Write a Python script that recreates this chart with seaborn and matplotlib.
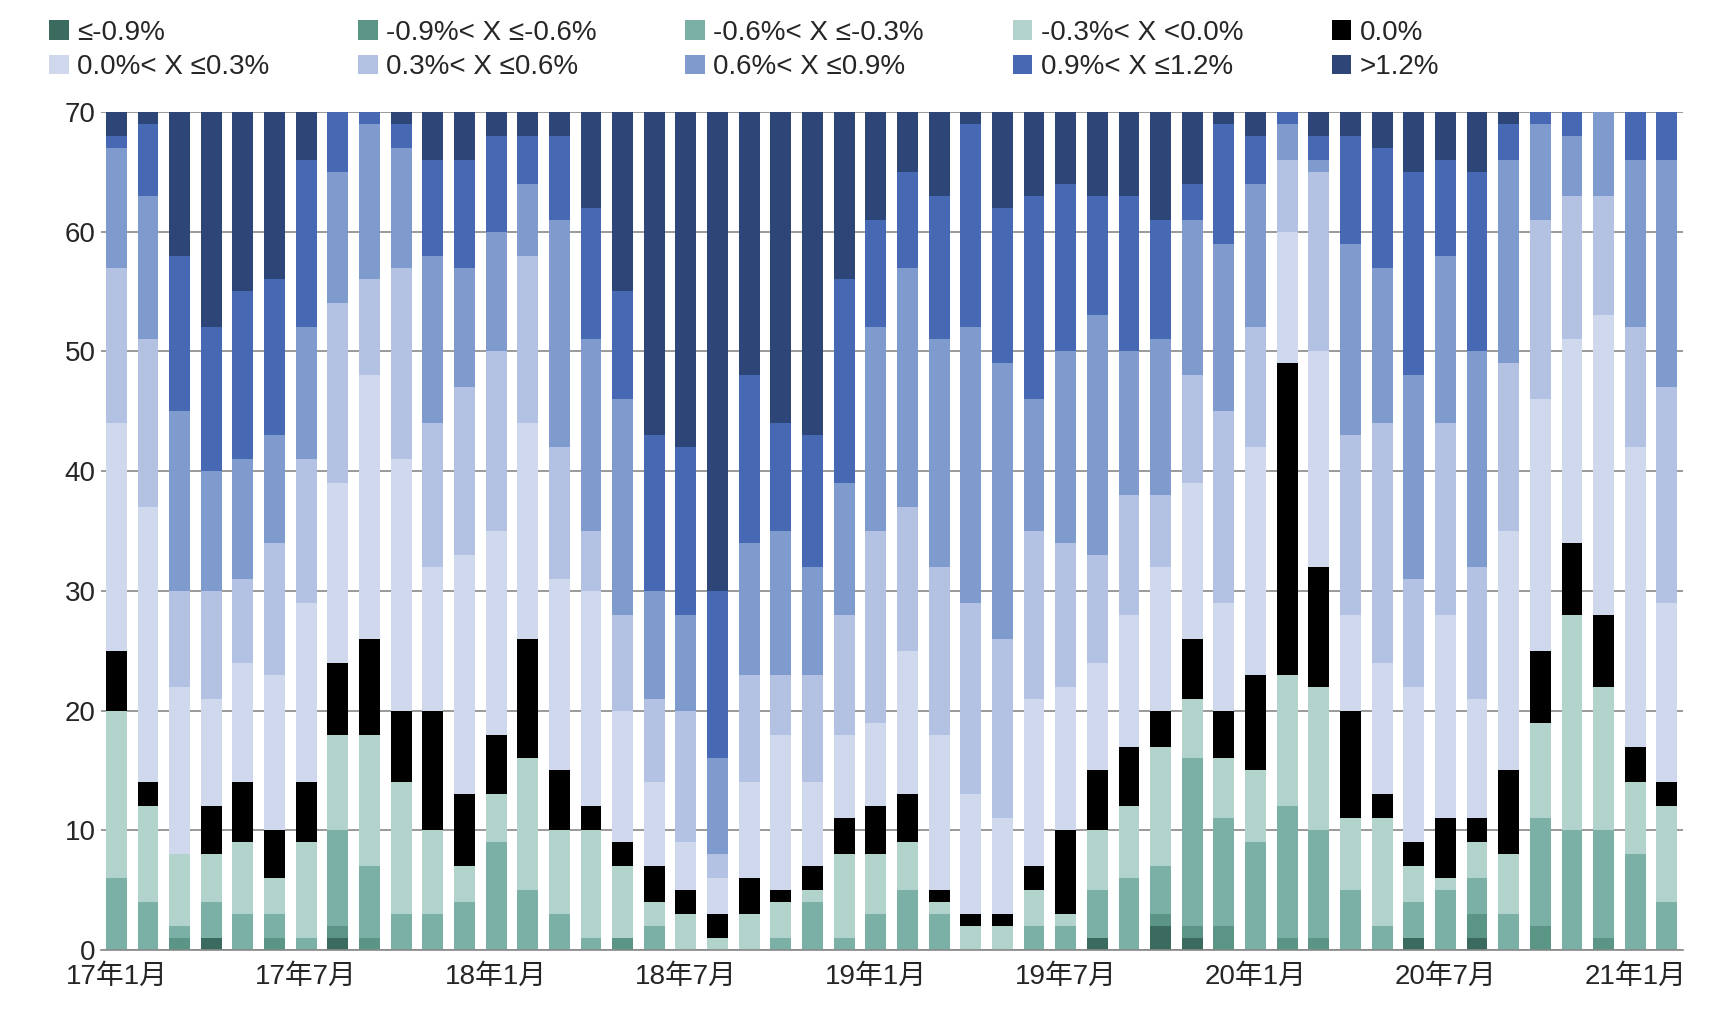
import matplotlib
matplotlib.use("Agg")
import matplotlib.pyplot as plt
import seaborn as sns
import pandas as pd
import numpy as np
from matplotlib.patches import Patch

sns.set_theme(style="white")
plt.rcParams['font.family'] = ['Liberation Sans', 'Noto Sans CJK SC', 'DejaVu Sans']

categories = ["≤-0.9%", "-0.9%< X ≤-0.6%", "-0.6%< X ≤-0.3%", "-0.3%< X <0.0%", "0.0%",
              "0.0%< X ≤0.3%", "0.3%< X ≤0.6%", "0.6%< X ≤0.9%", "0.9%< X ≤1.2%", ">1.2%"]
colors = ["#3a6b5e", "#5a9585", "#7ab0a6", "#b2d2cc", "#000000",
          "#cfd8ec", "#b3c2e2", "#7f9acc", "#4769b3", "#2e4577"]

months = []
for y in range(17, 22):
    for m in range(1, 13):
        months.append(f"{y}年{m}月")
months = months[:50]

# cumulative upper boundaries of the first 9 categories per month (total = 70)
cum = [
 [0,0,6,20,25,44,57,67,68],[0,0,4,12,14,37,51,63,69],[0,1,2,8,8,22,30,45,58],[1,1,4,8,12,21,30,40,52],
 [0,0,3,9,14,24,31,41,55],[0,1,3,6,10,23,34,43,56],[0,0,1,9,14,29,41,52,66],[1,2,10,18,24,39,54,65,70],
 [0,1,7,18,26,48,56,69,70],[0,0,3,14,20,41,57,67,69],[0,0,3,10,20,32,44,58,66],[0,0,4,7,13,33,47,57,66],
 [0,0,9,13,18,35,50,60,68],[0,0,5,16,26,44,58,64,68],[0,0,3,10,15,31,42,61,68],[0,0,1,10,12,30,35,51,62],
 [0,1,1,7,9,20,28,46,55],[0,0,2,4,7,14,21,30,43],[0,0,0,3,5,9,20,28,42],[0,0,0,1,3,6,8,16,30],
 [0,0,0,3,6,14,23,34,48],[0,0,1,4,5,18,23,35,44],[0,0,4,5,7,14,23,32,43],[0,0,1,8,11,18,28,39,56],
 [0,0,3,8,12,19,35,52,61],[0,0,5,9,13,25,37,57,65],[0,0,3,4,5,18,32,51,63],[0,0,0,2,3,13,29,52,69],
 [0,0,0,2,3,11,26,49,62],[0,0,2,5,7,21,35,46,63],[0,0,2,3,10,22,34,50,64],[1,1,5,10,15,24,33,53,63],
 [0,0,6,12,17,28,38,50,63],[2,3,7,17,20,32,38,51,61],[1,2,16,21,26,39,48,61,64],[0,2,11,16,20,29,45,59,69],
 [0,0,9,15,23,42,52,64,68],[0,1,12,23,49,60,66,69,70],[0,1,10,22,32,50,65,66,68],[0,0,5,11,20,28,43,59,68],
 [0,0,2,11,13,24,44,57,67],[1,1,4,7,9,22,31,48,65],[0,0,5,6,11,28,44,58,66],[1,3,6,9,11,21,32,50,65],
 [0,0,3,8,15,35,49,66,69],[0,2,11,19,25,46,61,69,70],[0,0,10,28,34,51,63,68,70],[0,1,10,22,28,53,63,70,70],
 [0,0,8,14,17,42,52,66,70],[0,0,4,12,14,29,47,66,70],
]
total = 70

rows = []
for i, mth in enumerate(months):
    bounds = cum[i] + [total]
    for j, cat in enumerate(categories):
        rows.append({"month": mth, "cat": cat, "top": bounds[j]})
df = pd.DataFrame(rows)

fig = plt.figure(figsize=(17.33, 10.26), dpi=100)
ax = fig.add_axes([0.058, 0.074, 0.913, 0.817])

for j in range(len(categories) - 1, -1, -1):
    sub = df[df["cat"] == categories[j]]
    sns.barplot(data=sub, x="month", y="top", color=colors[j], width=0.66,
                saturation=1, ax=ax, order=months, linewidth=0)

ax.set_ylim(0, 70)
ax.set_xlim(-0.5, len(months) - 0.5)
ax.set_yticks(range(0, 71, 10))
ax.yaxis.grid(True, color="#888888", linewidth=1.2, linestyle="-")
ax.set_axisbelow(True)
for s in ["top", "right", "left"]:
    ax.spines[s].set_visible(False)
ax.spines["bottom"].set_color("#888888")
ax.spines["bottom"].set_linewidth(1.2)
ax.set_xlabel("")
ax.set_ylabel("")

pos = list(range(0, len(months), 6))
ax.set_xticks(pos)
ax.set_xticklabels([months[p] for p in pos], fontsize=20)
ax.tick_params(axis="x", length=0, pad=10)
ax.set_xticks([p - 0.5 for p in range(0, len(months), 3)], minor=True)
ax.tick_params(axis="x", which="minor", length=7, width=1.2, color="#888888", direction="out")
ax.tick_params(axis="y", labelsize=20, length=0)

# legend filled row-wise (2 rows x 5 columns)
order = [0, 5, 1, 6, 2, 7, 3, 8, 4, 9]
handles = [Patch(facecolor=colors[k], edgecolor="none") for k in order]
labels = [categories[k] for k in order]
fig.legend(handles, labels, loc="upper left", bbox_to_anchor=(0.014, 1.005), ncol=5,
           frameon=False, fontsize=20, handlelength=0.7, handleheight=0.7,
           handletextpad=0.3, columnspacing=3.2, labelspacing=0.3)

fig.savefig("out.png", dpi=100)
